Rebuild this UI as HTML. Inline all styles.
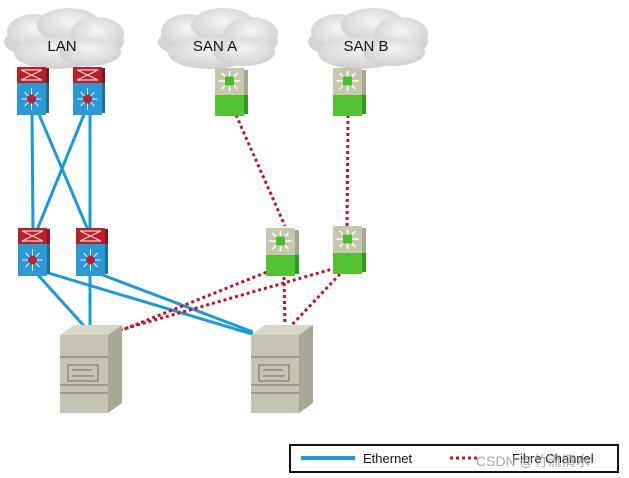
<!DOCTYPE html>
<html><head><style>html,body{margin:0;padding:0;background:#fff}svg{display:block}</style></head>
<body>
<svg width="629" height="478" viewBox="0 0 629 478" xmlns="http://www.w3.org/2000/svg" font-family="Liberation Sans, sans-serif">
<defs>
<radialGradient id="cg" cx="50%" cy="40%" r="60%"><stop offset="0" stop-color="#f4f4f4"/><stop offset="1" stop-color="#cfcfcf"/></radialGradient>
<g id="cloud">
<ellipse cx="0" cy="2" rx="60" ry="19" fill="url(#cg)"/>
<ellipse cx="-30" cy="-8" rx="27" ry="18" fill="url(#cg)"/>
<ellipse cx="5" cy="-15" rx="32" ry="17" fill="url(#cg)"/>
<ellipse cx="33" cy="-6" rx="27" ry="17" fill="url(#cg)"/>
<ellipse cx="-8" cy="13" rx="42" ry="16" fill="url(#cg)"/>
<ellipse cx="26" cy="12" rx="31" ry="14" fill="url(#cg)"/>
</g>
<g id="lsw">
<rect x="0" y="0" width="29" height="16" fill="#b8202a"/>
<rect x="29" y="1" width="3" height="15" fill="#8a1520"/>
<path d="M4 3 L25 13 M4 13 L25 3 M4 3h21 M4 13h21" stroke="#f0d0d0" stroke-width="1.2" fill="none"/>
<rect x="0" y="16" width="29" height="32" fill="#2a9ad4"/>
<rect x="29" y="16" width="3" height="30" fill="#1a6fa0"/>
<path d="M14.5 32 l0 -11 M14.5 32 l0 11 M14.5 32 l-10 0 M14.5 32 l10 0 M14.5 32 l-7 -7 M14.5 32 l7 7 M14.5 32 l7 -7 M14.5 32 l-7 7" stroke="#e8f4ff" stroke-width="1"/>
<circle cx="14.5" cy="32" r="4.5" fill="#c0202a"/>
</g>
<g id="ssw">
<rect x="0" y="0" width="29" height="27" fill="#c9c6b0"/>
<rect x="29" y="2" width="4" height="25" fill="#a8a58e"/>
<path d="M14.5 13 l0 -10 M14.5 13 l0 10 M14.5 13 l-11 0 M14.5 13 l11 0 M14.5 13 l-8 -8 M14.5 13 l8 8 M14.5 13 l8 -8 M14.5 13 l-8 8" stroke="#fff" stroke-width="1.5"/>
<rect x="10" y="8.5" width="9" height="9" fill="#44c02a"/>
<rect x="0" y="27" width="29" height="21" fill="#52c234"/>
<rect x="29" y="27" width="4" height="19" fill="#2e9a1e"/>
</g>
<g id="srv">
<polygon points="0,10 14,0 62,0 48,10" fill="#d8d6c6"/>
<polygon points="48,10 62,0 62,78 48,88" fill="#a9a794"/>
<rect x="0" y="10" width="48" height="78" fill="#c6c4b0"/>
<path d="M0 32 h48 M0 60 h48 M0 68 h48" stroke="#555" stroke-width="0.8"/>
<rect x="8" y="40" width="30" height="16" fill="none" stroke="#555" stroke-width="0.8"/>
<path d="M12 45 h20 M12 51 h22" stroke="#555" stroke-width="0.7"/>
</g>
</defs>

<use href="#cloud" x="64" y="40"/>
<use href="#cloud" x="218" y="40"/>
<use href="#cloud" x="368" y="40"/>
<text x="62" y="51" font-size="15" text-anchor="middle" fill="#111">LAN</text>
<text x="215" y="51" font-size="15" text-anchor="middle" fill="#111">SAN A</text>
<text x="366" y="51" font-size="15" text-anchor="middle" fill="#111">SAN B</text>

<g stroke="#1a9ad6" stroke-width="3" fill="none">
<line x1="32" y1="112" x2="33" y2="230"/>
<line x1="38" y1="112" x2="88" y2="230"/>
<line x1="85" y1="112" x2="37" y2="230"/>
<line x1="90" y1="112" x2="90" y2="230"/>
<line x1="38" y1="275" x2="85" y2="327"/>
<line x1="90" y1="275" x2="90" y2="327"/>
<line x1="45" y1="272" x2="255" y2="335"/>
<line x1="100" y1="274" x2="253" y2="332"/>
</g>
<g stroke="#c8102e" stroke-width="3" stroke-dasharray="3,3" fill="none">
<line x1="236" y1="115" x2="285" y2="226"/>
<line x1="348" y1="115" x2="347" y2="226"/>
<line x1="272" y1="270" x2="115" y2="333"/>
<line x1="336" y1="268" x2="120" y2="330"/>
<line x1="284" y1="277" x2="285" y2="327"/>
<line x1="340" y1="274" x2="290" y2="327"/>
</g>

<use href="#lsw" x="17" y="67"/>
<use href="#lsw" x="73" y="67"/>
<use href="#ssw" x="215" y="68"/>
<use href="#ssw" x="333" y="68"/>
<use href="#lsw" x="18" y="228"/>
<use href="#lsw" x="76" y="228"/>
<use href="#ssw" x="266" y="228"/>
<use href="#ssw" x="333" y="226"/>
<use href="#srv" x="60" y="325"/>
<use href="#srv" x="251" y="325"/>

<rect x="290" y="445" width="328" height="27" fill="#fff" stroke="#111" stroke-width="2"/>
<line x1="301" y1="458" x2="355" y2="458" stroke="#1a9ad6" stroke-width="4"/>
<text x="363" y="463" font-size="13" fill="#111">Ethernet</text>
<line x1="450" y1="458" x2="480" y2="458" stroke="#c8102e" stroke-width="3" stroke-dasharray="3,3"/>
<text x="512" y="463" font-size="13" fill="#111">Fibre Channel</text>
<text x="476" y="466" font-size="14" fill="#999" fill-opacity="0.85" font-family="Liberation Sans, Noto Sans CJK SC, sans-serif">CSDN @竹流清水</text>
</svg>
</body></html>
